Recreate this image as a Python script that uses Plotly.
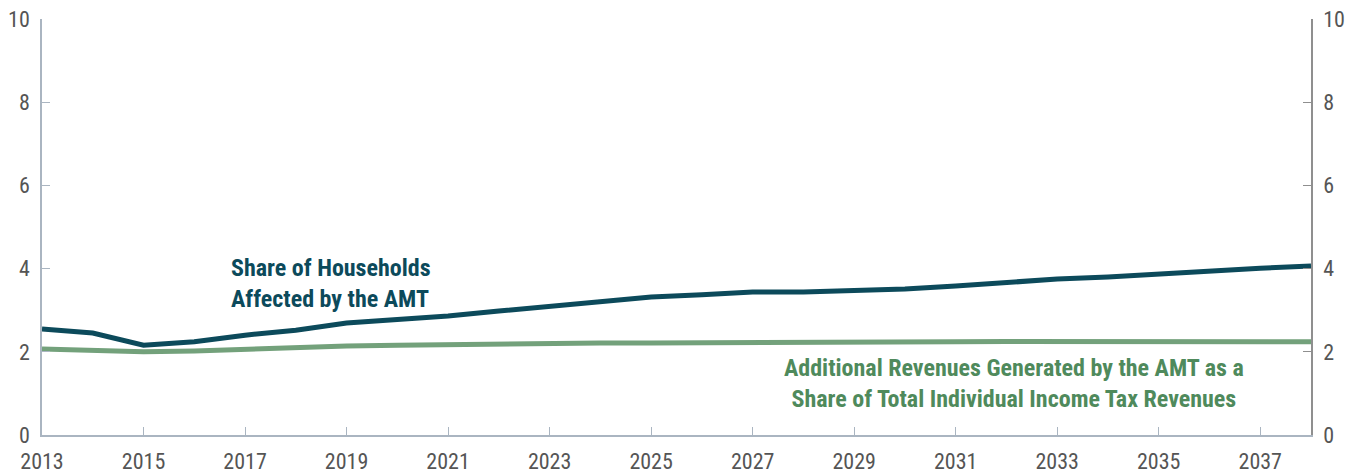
import plotly.graph_objects as go

years = list(range(2013, 2039))
households = [2.55, 2.45, 2.16, 2.24, 2.40, 2.52, 2.69, 2.76, 2.86, 2.98, 3.10, 3.22, 3.32, 3.37, 3.44, 3.44,
              3.46, 3.51, 3.58, 3.68, 3.75, 3.80, 3.87, 3.97, 4.01, 4.06]
revenues = [2.07, 2.02, 2.00, 2.02, 2.07, 2.11, 2.14, 2.16, 2.18, 2.19, 2.21, 2.21, 2.21, 2.21, 2.22, 2.21,
            2.23, 2.23, 2.24, 2.25, 2.25, 2.25, 2.25, 2.24, 2.25, 2.24]
x_ticks = list(range(2013, 2038, 2))
y_ticks = [0, 2, 4, 6, 8, 10]

FONT = "Liberation Sans Narrow, Roboto Condensed, Arial Narrow, sans-serif"
TEAL = "#0c4a5b"
GREEN = "#73a17b"
GREEN_TXT = "#4f8a5c"
AX = "#aab5c1"
TXT = "#555555"

fig = go.Figure()
fig.add_trace(go.Scatter(x=years, y=revenues, mode="lines", line=dict(color=GREEN, width=5), showlegend=False))
fig.add_trace(go.Scatter(x=years, y=households, mode="lines", line=dict(color=TEAL, width=5), showlegend=False))
fig.add_trace(go.Scatter(x=years, y=households, mode="lines", line=dict(width=0), opacity=0,
                         yaxis="y2", showlegend=False, hoverinfo="skip"))

fig.add_annotation(x=2016.68, y=3.64, text="<b>Share of Households<br>Affected by the AMT</b>", showarrow=False,
                   xanchor="left", yanchor="middle", align="left",
                   font=dict(family=FONT, size=24, color=TEAL))
fig.add_annotation(x=2032.15, y=1.24, text="<b>Additional Revenues Generated by the AMT as a<br>Share of Total Individual Income Tax Revenues</b>",
                   showarrow=False, xanchor="center", yanchor="middle", align="center",
                   font=dict(family=FONT, size=24, color=GREEN_TXT))

fig.update_layout(
    width=1349, height=468,
    margin=dict(l=34, r=46, t=11, b=41, autoexpand=False),
    paper_bgcolor="white", plot_bgcolor="white",
    font=dict(family=FONT, size=22, color=TXT),
    xaxis=dict(range=[2013, 2038], tickvals=x_ticks, ticktext=[str(v) for v in x_ticks],
               showgrid=False, zeroline=False, showline=True, linecolor=AX, linewidth=1.5,
               ticks="inside", ticklen=8, tickcolor=AX, ticklabelstandoff=6, automargin=False,
               ticklabeloverflow="allow", tickfont=dict(size=22, color=TXT)),
    yaxis=dict(range=[0, 10], tickvals=y_ticks, showgrid=False, zeroline=False, showline=True,
               linecolor=AX, linewidth=1.5, ticks="inside", ticklen=8, tickcolor=AX,
               ticklabelstandoff=6, automargin=False, ticklabeloverflow="allow",
               tickfont=dict(size=22, color=TXT)),
    yaxis2=dict(range=[0, 10], tickvals=y_ticks, overlaying="y", side="right", showgrid=False,
                zeroline=False, showline=True, linecolor="#8f8f8f", linewidth=1.5, ticks="inside",
                ticklen=8, tickcolor="#8f8f8f", ticklabelstandoff=6, automargin=False,
                ticklabeloverflow="allow", tickfont=dict(size=22, color=TXT)),
)

fig.write_html("out.html")
